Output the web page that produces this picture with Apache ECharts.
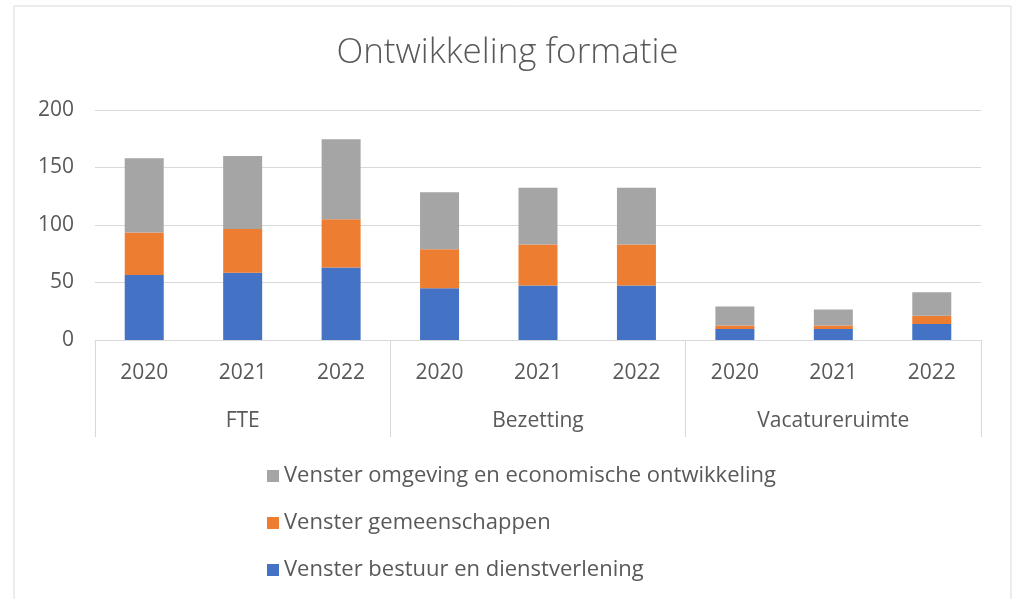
<!DOCTYPE html>
<html>
<head>
<meta charset="utf-8">
<script src="https://cdn.jsdelivr.net/npm/echarts@6/dist/echarts.min.js"></script>
<style>
html,body{margin:0;padding:0;background:#fff;}
#chart{width:1015px;height:599px;}
</style>
</head>
<body>
<div id="chart"></div>
<script>
const years = ['2020','2021','2022','2020','2021','2022','2020','2021','2022'];
const groups = ['FTE','Bezetting','Vacatureruimte'];
const seriesNames = ['Venster bestuur en dienstverlening','Venster gemeenschappen','Venster omgeving en economische ontwikkeling'];
const bestuur = [56.5, 58.5, 63, 45, 47.5, 47.5, 9.6, 9.6, 14];
const gemeenschappen = [37, 38, 42, 34, 35.5, 35.5, 3, 3, 7];
const omgeving = [64.5, 63.5, 69.5, 49.5, 49.5, 49.5, 16.5, 14, 20.5];
const yTicks = [0, 50, 100, 150, 200];

const FONT = '"Open Sans", sans-serif';
const TXT = '#595959';
const colors = ['#4472C4','#ED7D31','#A5A5A5'];

const chart = echarts.init(document.getElementById('chart'), null, {renderer:'canvas'});
const values = [bestuur, gemeenschappen, omgeving];
chart.setOption({
  animation:false,
  title:{text:'Ontwikkeling formatie', left:'center', top:31, padding:[5,5,5,17],
    textStyle:{fontFamily:FONT, fontSize:35, fontWeight:300, color:TXT}},
  graphic:[{type:'rect', shape:{x:14,y:6,width:997,height:700}, style:{fill:'none', stroke:'#D9D9D9', lineWidth:1}, silent:true}],
  legend:{orient:'vertical', left:262, top:460, itemGap:25, itemWidth:12, itemHeight:12, icon:'rect',
    data:[seriesNames[2], seriesNames[1], seriesNames[0]],
    textStyle:{fontFamily:FONT, fontSize:22, color:TXT}},
  grid:{left:95, right:34, top:110, bottom:259},
  xAxis:[
    {type:'category', data:years, position:'bottom',
      axisLine:{show:true, lineStyle:{color:'#D9D9D9'}},
      axisTick:{show:false},
      axisLabel:{margin:23, fontFamily:FONT, fontSize:21, color:TXT, interval:0}},
    {type:'category', data:groups, position:'bottom',
      axisLine:{show:false},
      axisTick:{show:true, length:97, interval:0, lineStyle:{color:'#D9D9D9'}},
      axisLabel:{margin:71, fontFamily:FONT, fontSize:21, color:TXT, interval:0}}
  ],
  yAxis:{type:'value', min:yTicks[0], max:yTicks[yTicks.length-1], interval:50,
    axisLine:{show:false}, axisTick:{show:false},
    splitLine:{lineStyle:{color:'#D9D9D9'}},
    axisLabel:{margin:21, fontFamily:FONT, fontSize:21, color:TXT}},
  series: values.map((v,i)=>({
    name:seriesNames[i], type:'bar', stack:'total', xAxisIndex:0, barWidth:39,
    itemStyle:{color:colors[i]}, data:v
  }))
});
</script>
</body>
</html>
